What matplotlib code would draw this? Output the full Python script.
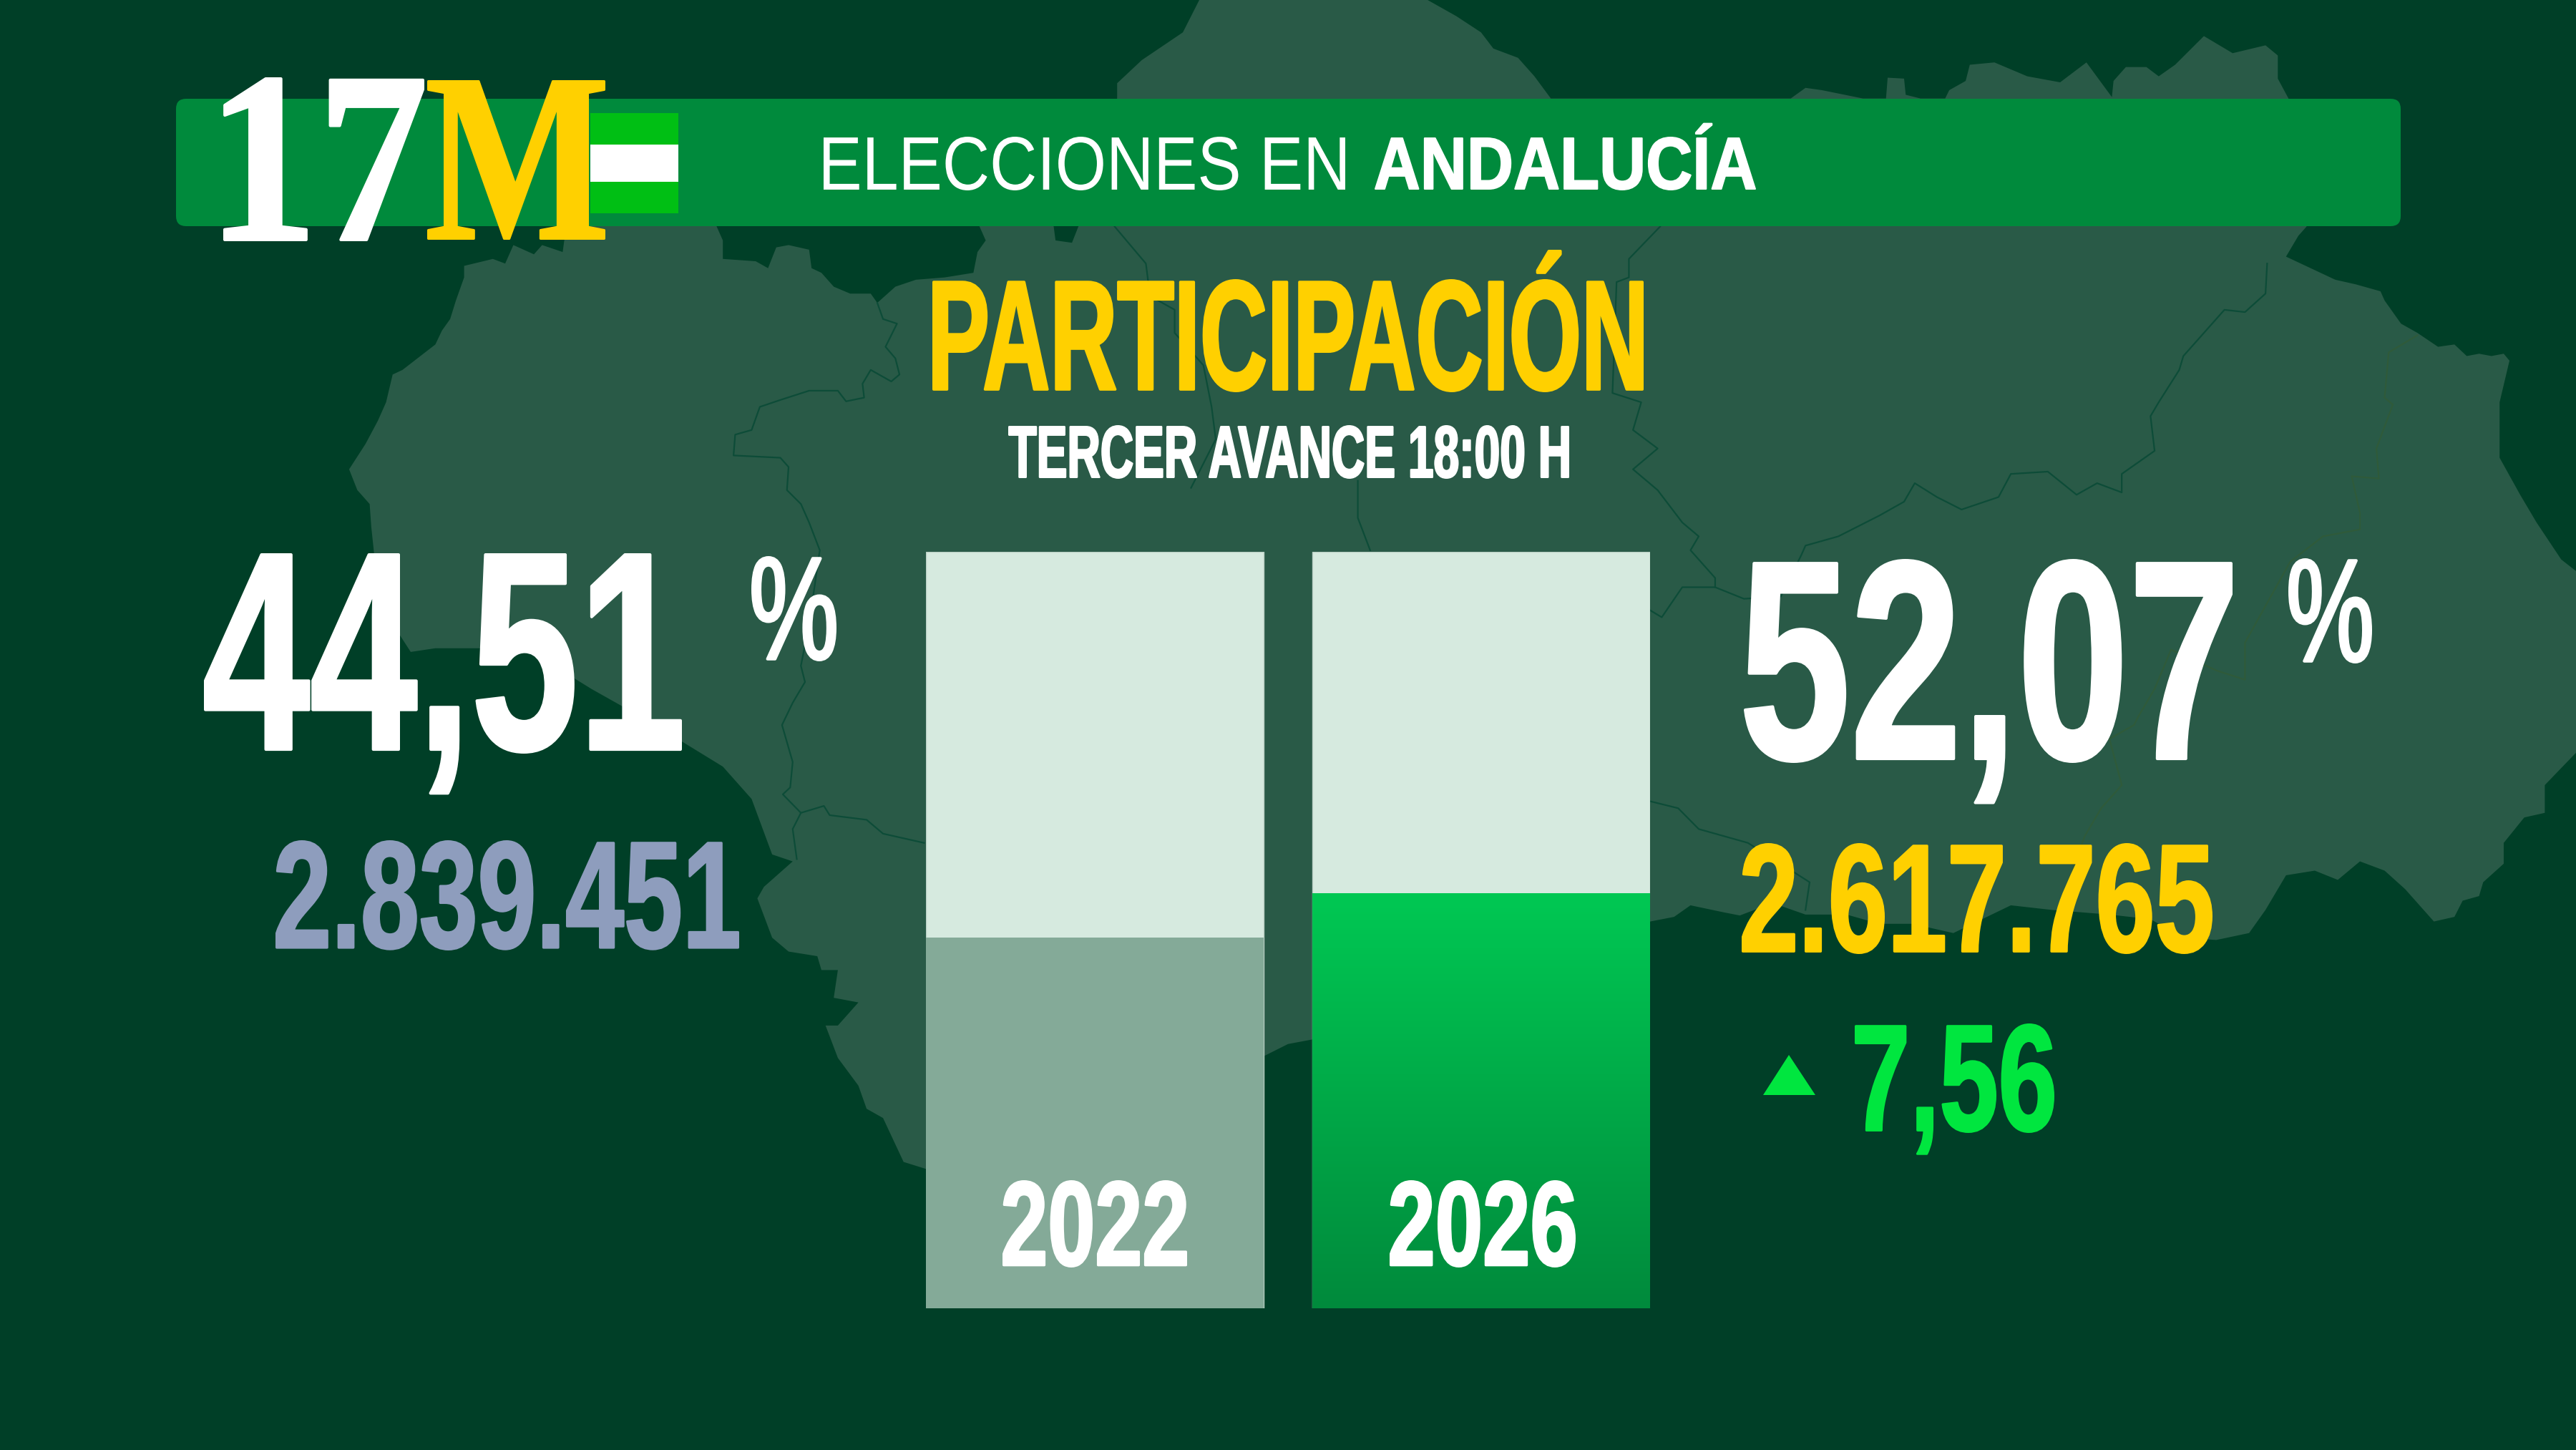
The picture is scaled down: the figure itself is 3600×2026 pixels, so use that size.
import numpy as np
import matplotlib
matplotlib.use("Agg")
import matplotlib.pyplot as plt
from matplotlib.font_manager import FontProperties
from matplotlib.patches import Polygon, Rectangle, FancyBboxPatch
from matplotlib.patheffects import AbstractPathEffect
from matplotlib.textpath import TextPath
from matplotlib.transforms import Affine2D

# ---- data ----
years = ["2022", "2026"]
turnout = [44.51, 52.07]
turnout_labels = ["44,51", "52,07"]
votes_labels = ["2.839.451", "2.617.765"]
diff_label = "7,56"
title = "PARTICIPACIÓN"
subtitle = "TERCER AVANCE 18:00 H"
banner_light = "ELECCIONES EN"
banner_bold = "ANDALUCÍA"

# Vertical scale of the bars
axis_min, axis_max = -18.66, 110.24

W, H = 3600, 2026
BG = "#003f27"; MAPC = "#295a47"; BANNER = "#008a3c"; YEL = "#ffd000"
fig = plt.figure(figsize=(W / 100, H / 100), dpi=100, facecolor=BG)


def px_axes(z):
    a = fig.add_axes([0, 0, 1, 1], zorder=z)
    a.set_xlim(0, W); a.set_ylim(H, 0); a.axis("off")
    a.patch.set_alpha(0)
    return a


ax_bg = px_axes(0)
ax_top = px_axes(3)

# ---- background map (zoom-crop coordinates of each quadrant) ----
def q(pts, ox, oy):
    return [(ox + x * 1800 / 1568, oy + y * 1013 / 1568) for x, y in pts]


TL, TR, BL, BR = (0, 0), (1800, 0), (0, 1013), (1800, 1013)
outline = (
    q([(1460, 0), (1440, 70), (1390, 130), (1360, 180), (1360, 210), (1355, 480), (1315, 480), (1305, 525), (1285, 520),
       (1282, 480), (1190, 480), (1200, 520), (1190, 545), (1185, 590), (1150, 600), (1115, 605), (1090, 620), (1068, 655),
       (1060, 635), (1035, 635), (1015, 620), (1000, 590), (988, 580), (985, 540), (960, 530), (945, 535), (935, 580),
       (920, 565), (880, 560), (880, 520), (870, 480), (690, 480), (685, 545), (660, 530), (650, 550), (625, 530), (615, 570),
       (600, 560), (565, 575), (565, 600), (555, 650), (548, 690), (538, 715), (530, 745), (490, 800), (478, 810), (470, 870),
       (460, 910), (445, 960), (425, 1015), (435, 1060), (450, 1090), (452, 1140), (455, 1190), (460, 1300), (500, 1410),
       (530, 1402), (640, 1402), (720, 1490), (790, 1560)], *TL)
    + q([(880, 90), (915, 160), (940, 280), (965, 295), (930, 350), (922, 375), (940, 460), (960, 490), (995, 500), (1000, 530),
         (1020, 530), (1015, 590), (1045, 600), (1020, 650), (1005, 650), (1020, 720), (1045, 780), (1055, 830), (1075, 850),
         (1100, 945), (1127, 960), (1540, 715), (1568, 690)], *BL)
    + q([(30, 680), (441, 425), (470, 415), (490, 390), (530, 405), (550, 412), (590, 385), (630, 410), (680, 410),
         (720, 430), (760, 430), (810, 450), (880, 390), (930, 400), (1000, 410), (1050, 420), (1090, 460), (1130, 465),
         (1170, 450), (1190, 400), (1215, 325), (1250, 315), (1278, 335), (1305, 295), (1335, 315), (1360, 355), (1395, 425),
         (1420, 415), (1430, 380), (1450, 370), (1455, 340), (1480, 300), (1480, 255), (1505, 200), (1530, 190), (1530, 130),
         (1568, 60)], *BR)
    + q([(1568, 1235), (1550, 1210), (1520, 1130), (1500, 1070), (1475, 990), (1475, 870), (1487, 780), (1480, 765), (1465, 770),
         (1450, 765), (1435, 770), (1420, 745), (1400, 750), (1375, 720), (1355, 700), (1335, 650), (1330, 630), (1300, 615),
         (1275, 605), (1245, 580), (1215, 555), (1230, 510), (1240, 490), (1218, 213), (1205, 170), (1205, 120), (1190, 98),
         (1150, 115), (1115, 78), (1080, 140), (1060, 165), (1045, 145), (1020, 145), (1005, 175), (1003, 210), (972, 135),
         (940, 178), (900, 165), (860, 135), (830, 140), (825, 175), (805, 195), (800, 213), (770, 213), (752, 205), (750, 170),
         (730, 168), (728, 213), (700, 213), (650, 195), (630, 190), (612, 213), (320, 213), (300, 165), (280, 125), (250, 105),
         (235, 70), (205, 35), (170, 0)], *TR)
)
ax_bg.add_patch(Polygon(outline, closed=True, fc=MAPC, ec="none", zorder=1))

borders = [
    q([(1068, 655), (1075, 690), (1092, 700), (1078, 750), (1090, 775), (1095, 810), (1085, 825), (1060, 800), (1050, 830), (1052, 860),
       (1030, 868), (1020, 845), (985, 845), (950, 865), (925, 880), (915, 930), (895, 940), (893, 985), (950, 990), (960, 1010),
       (958, 1060), (975, 1090), (985, 1130), (998, 1190), (985, 1350), (975, 1440), (980, 1475), (965, 1520), (952, 1568)], *TL)
    + q([(965, 80), (962, 135), (953, 150), (975, 190), (965, 225), (970, 290)], *BL),
    q([(975, 190), (1003, 175), (1010, 195), (1055, 205), (1075, 235), (1125, 255)], *BL),
    q([(1357, 490), (1395, 570), (1400, 640), (1430, 670), (1430, 720), (1465, 790), (1475, 880), (1480, 950), (1450, 1055)], *TL),
    q([(85, 1040), (85, 1120), (100, 1190)], *TR),
    q([(453, 490), (415, 560), (415, 600), (400, 610), (395, 850), (430, 870), (420, 930), (450, 970), (420, 1015), (450, 1060),
       (480, 1130), (500, 1160), (490, 1190), (520, 1250), (520, 1270), (480, 1270), (455, 1335), (441, 1320)], *TR),
    q([(1192, 570), (1190, 635), (1165, 675), (1140, 670), (1115, 720), (1090, 770), (1085, 800), (1060, 870), (1050, 900), (1055, 975),
       (1015, 1025), (1015, 1065), (985, 1045), (960, 1070), (925, 1020), (880, 1025), (865, 1075), (820, 1102), (790, 1075), (763, 1045),
       (750, 1085), (720, 1115), (670, 1160), (630, 1180), (625, 1200), (600, 1290), (555, 1295), (520, 1270)], *TR),
    q([(441, 165), (475, 180), (500, 225), (560, 255), (635, 340), (630, 400)], *BR),
]
for b in borders:
    ax_bg.plot(*zip(*b), color="#0d4c38", lw=1.6, zorder=2)
east = (
    q([(1375, 725), (1340, 762), (1335, 860), (1345, 875), (1325, 970), (1328, 1035), (1295, 1030), (1305, 1110), (1305, 1145),
       (1260, 1160), (1220, 1215), (1165, 1390), (1165, 1470), (1130, 1450), (1075, 1405), (1055, 1490), (1035, 1550), (1030, 1568)], *TR)
    + q([(1000, 30), (1015, 130), (990, 180), (970, 240), (945, 360), (940, 400)], *BR)
)
ax_bg.plot(*zip(*east), color="#2f5a3a", lw=1.6, zorder=2)

# ---- banner and flag ----
ax_bg.add_patch(FancyBboxPatch((260, 152), 3081, 150, boxstyle="round,pad=14,rounding_size=14", fc=BANNER, ec="none", zorder=3))
ax_bg.add_patch(Rectangle((825, 158), 123, 140, fc="#00bf14", ec="none", zorder=4))
ax_bg.add_patch(Rectangle((825, 202), 123, 52, fc="white", ec="none", zorder=5))

# ---- bars ----
ax = fig.add_axes([1294 / W, 1 - 1828 / H, (2306 - 1294) / W, (1828 - 771) / H], zorder=2)
ax.axis("off"); ax.patch.set_alpha(0)
xs = np.arange(len(years))
bw = 472 / 540
ax.bar(xs, [axis_max - axis_min] * 2, width=bw, bottom=axis_min, color="#d6eadf", edgecolor="#b9cfc4", linewidth=1)
heights = [v - axis_min for v in turnout]
bars = ax.bar(xs, heights, width=bw, bottom=axis_min, color=["#84aa98", "#00a84a"], linewidth=0, zorder=2)
grad = np.linspace(0, 1, 256).reshape(-1, 1, 1)
c0 = np.array([0x00, 0xc8, 0x53]) / 255
c1 = np.array([0x00, 0x8a, 0x3c]) / 255
im = ax.imshow(c0 * (1 - grad) + c1 * grad, extent=[xs[1] - bw / 2, xs[1] + bw / 2, axis_min, turnout[1]],
               aspect="auto", zorder=3, interpolation="bilinear")
im.set_clip_path(bars[1])
ax.set_xlim(-bw / 2, 1 + bw / 2)
ax.set_ylim(axis_min, axis_max)


# ---- text fitted into measured boxes: size from the width, glyphs stretched upward ----
class Stretch(AbstractPathEffect):
    """Stretch glyphs vertically about the baseline and optionally thicken them."""

    def __init__(self, sy, stroke_px=0.0, color="white"):
        super().__init__()
        self.sy, self.stroke_px, self.color = sy, stroke_px, color

    def draw_path(self, renderer, gc, tpath, affine, rgbFace=None):
        tr = Affine2D().scale(1, self.sy) + affine
        g = renderer.new_gc()
        g.copy_properties(gc)
        if self.stroke_px > 0:
            g.set_linewidth(self.stroke_px * 72 / 100)
            g.set_foreground(self.color)
            g.set_joinstyle("round")
        renderer.draw_path(g, tpath, tr, rgbFace)
        g.restore()


NARROW = ["Liberation Sans Narrow", "Liberation Sans"]


def fit(s, x0, x1, top, bottom, color, family=NARROW, weight="bold", ref=None, stroke=0.0):
    x0, x1, top, bottom = x0 + stroke / 2, x1 - stroke / 2, top + stroke / 2, bottom - stroke / 2
    fp = FontProperties(family=family, weight=weight)
    ink = TextPath((0, 0), s, size=100, prop=fp).get_extents()
    rink = TextPath((0, 0), ref or s, size=100, prop=fp).get_extents()
    scale = (x1 - x0) / ink.width                    # px per unit of size 100
    size_pt = 100 * scale * 72 / 100
    sy = (bottom - top) / (rink.height * scale)
    x = x0 - ink.x0 * scale
    y = bottom + rink.y0 * scale * sy
    return ax_top.text(x, y, s, fontproperties=fp, fontsize=size_pt, color=color, ha="left", va="baseline",
                       path_effects=[Stretch(sy, stroke, color)], zorder=5)


SERIF = ["Liberation Serif"]
fit("17", 312, 593, 108, 337, "white", SERIF, stroke=4)
fit("M", 597, 846, 112, 335, YEL, SERIF, stroke=3)

fit(banner_light, 1151, 1880, 191, 266, "white", weight="normal")
fit(banner_bold, 1921, 2454, 191, 266, "white", ref="ANDALUCIA", stroke=2)
fit(title, 1303, 2297, 390, 548, YEL, ref="PARTICIPACION", stroke=3.5)
fit(subtitle, 1409, 2193, 594, 669, "white", stroke=2.5)

fit(turnout_labels[0], 285, 953, 773, 1053, "white", ref="4451", stroke=4)
fit("%", 1050, 1169, 777, 924, "white", weight="normal", stroke=4)
fit(turnout_labels[1], 2437, 3120, 781, 1066, "white", ref="5207", stroke=4)
fit("%", 3198, 3315, 780, 927, "white", weight="normal", stroke=4)
fit(votes_labels[0], 385, 1033, 1174, 1328, "#8e9dbd", ref="2839451", stroke=3)
fit(votes_labels[1], 2434, 3092, 1178, 1333, YEL, ref="2617765", stroke=3)
fit(diff_label, 2592, 2871, 1430, 1583, "#00e63f", ref="756", stroke=3)
ax_top.add_patch(Polygon([(2464, 1530), (2537, 1530), (2500, 1474)], closed=True, fc="#00e63f", ec="none"))
fit(years[0], 1401, 1659, 1649, 1771, "white", stroke=3)
fit(years[1], 1942, 2202, 1649, 1771, "white", stroke=3)

fig.savefig("out.png", dpi=100, facecolor=BG)
